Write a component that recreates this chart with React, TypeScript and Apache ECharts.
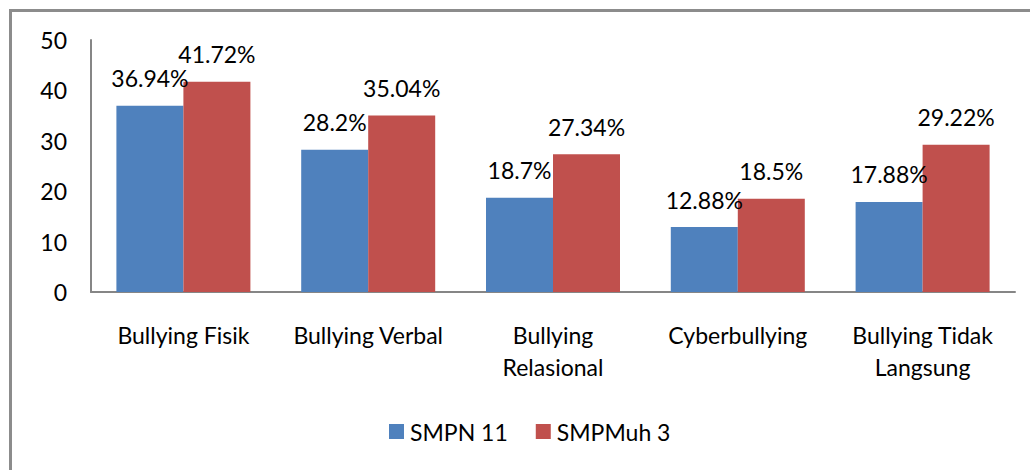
import React, { useEffect, useRef } from "react";
import * as echarts from "echarts";

const categories = [
  "Bullying Fisik",
  "Bullying Verbal",
  "Bullying\nRelasional",
  "Cyberbullying",
  "Bullying Tidak\nLangsung",
];
const seriesNames = ["SMPN 11", "SMPMuh 3"];
const smpn11 = [36.94, 28.2, 18.7, 12.88, 17.88];
const smpmuh3 = [41.72, 35.04, 27.34, 18.5, 29.22];
const yTicks = [0, 10, 20, 30, 40, 50];

const FONT = "Lato, 'Open Sans', sans-serif";
const FS = 23;

export default function App() {
  const ref = useRef<HTMLDivElement>(null);
  useEffect(() => {
    if (!ref.current) return;
    const chart = echarts.init(ref.current, null, { renderer: "svg" });
    const labelStyle = {
      show: true,
      position: "top",
      distance: 16,
      color: "#000",
      fontSize: FS,
      fontFamily: FONT,
      formatter: (p: any) => `${p.value}%`,
    };
    chart.setOption({
      animation: false,
      backgroundColor: "#fff",
      textStyle: { fontFamily: FONT },
      graphic: [
        {
          type: "rect",
          shape: { x: 10.5, y: 10.5, width: 1100, height: 600 },
          style: { fill: "none", stroke: "#8c8c8c", lineWidth: 3 },
          silent: true,
        },
      ],
      grid: { left: 91, right: 15, top: 40, bottom: 178 },
      legend: {
        data: seriesNames,
        bottom: 22,
        left: 384,
        itemWidth: 15,
        itemHeight: 15,
        itemGap: 28,
        icon: "rect",
        textStyle: { fontSize: FS, color: "#000", fontFamily: FONT, padding: [0, 0, 0, 1] },
      },
      xAxis: {
        type: "category",
        data: categories,
        axisLine: { lineStyle: { color: "#868686", width: 2 } },
        axisTick: { show: false },
        axisLabel: {
          color: "#000",
          fontSize: FS,
          fontFamily: FONT,
          lineHeight: 32,
          margin: 27,
          interval: 0,
        },
      },
      yAxis: {
        type: "value",
        min: 0,
        max: 50,
        interval: 10,
        axisLine: { show: true, lineStyle: { color: "#868686", width: 2 } },
        axisTick: { show: false },
        splitLine: { show: false },
        axisLabel: {
          color: "#000",
          fontSize: FS,
          fontFamily: FONT,
          margin: 24,
          formatter: (v: number) => (yTicks.includes(v) ? String(v) : ""),
        },
      },
      series: [
        {
          name: seriesNames[0],
          type: "bar",
          data: smpn11,
          barWidth: 67,
          barGap: "0%",
          itemStyle: { color: "#4F81BD" },
          label: labelStyle,
        },
        {
          name: seriesNames[1],
          type: "bar",
          data: smpmuh3,
          barWidth: 67,
          barGap: "0%",
          itemStyle: { color: "#C0504D" },
          label: labelStyle,
        },
      ],
    });
    return () => chart.dispose();
  }, []);
  return (
    <div
      ref={ref}
      style={{ position: "absolute", left: 0, top: 0, width: 1030, height: 470 }}
    />
  );
}
